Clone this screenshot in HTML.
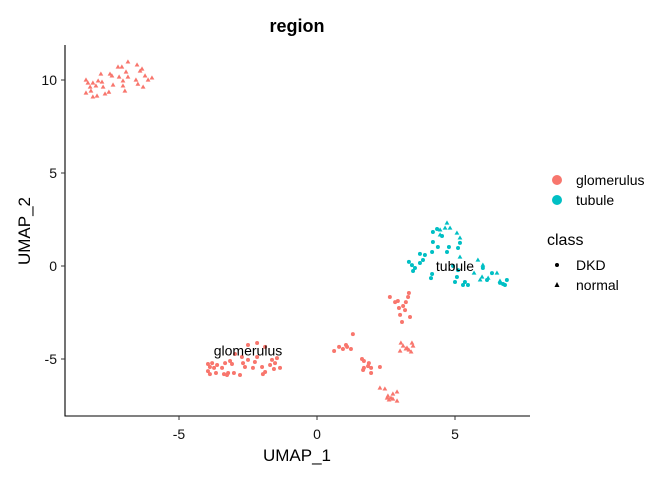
<!DOCTYPE html>
<html><head><meta charset="utf-8"><style>
body{margin:0;background:#fff;font-family:"Liberation Sans",Arial,sans-serif}
svg text{font-family:"Liberation Sans",Arial,sans-serif}
</style></head><body>
<svg id="chart" width="672" height="480">
<text x="297" y="32" text-anchor="middle" font-size="18" font-weight="bold">region</text>
<g id="axes"></g>
<g id="points"></g>
<g id="labels"></g>
<g>
<circle cx="557" cy="180" r="5" fill="#F8766D"/>
<text x="576" y="185" font-size="14">glomerulus</text>
<circle cx="557" cy="200" r="5" fill="#00BFC4"/>
<text x="576" y="205" font-size="14">tubule</text>
<text x="547" y="245" font-size="16">class</text>
<circle cx="557" cy="265" r="2" fill="#000"/>
<text x="576" y="270" font-size="14">DKD</text>
<polygon points="557,282 554.5,287 559.5,287" fill="#000"/>
<text x="576" y="290" font-size="14">normal</text>
</g>
</svg>
<script>
const xTicks=[-5,0,5];
const yTicks=[-5,0,5,10];
const glomNormalX=[-6.85,-7.21,-7.07,-6.52,-6.41,-6.34,-6.23,-6.12,-5.98,-6.56,-6.49,-6.30,-6.92,-6.85,-7.17,-7.03,-7.03,-6.96,-7.39,-7.54,-7.50,-7.43,-7.83,-7.93,-7.79,-7.75,-8.37,-8.30,-8.12,-8.22,-8.01,-8.19,-8.37,-8.12,-7.97,-7.68,3.04,3.12,3.01,3.26,3.44,3.48,3.33,3.41,3.22,2.28,2.46,2.90,2.75,2.57,2.68,2.54,2.75,2.90,2.61];
const glomNormalY=[10.97,10.70,10.70,10.81,10.48,10.59,10.22,10.00,10.11,10.00,9.78,9.62,10.43,10.16,10.16,9.95,9.68,9.41,9.73,9.35,10.32,10.22,10.32,9.95,9.89,9.62,10.00,9.84,9.84,9.62,9.68,9.41,9.30,9.09,9.14,9.25,-4.14,-4.30,-4.57,-4.41,-4.14,-4.30,-4.52,-4.62,-4.46,-6.56,-6.61,-6.77,-6.88,-6.99,-7.10,-7.10,-7.15,-7.26,-7.20];
const glomDkdX=[-3.95,-3.80,-3.62,-3.88,-3.73,-3.95,-3.66,-3.88,-3.37,-3.26,-3.22,-3.01,-2.79,-3.15,-3.08,-2.97,-2.72,-2.68,-2.61,-2.50,-2.25,-2.17,-2.32,-1.99,-1.88,-1.96,-1.70,-1.52,-1.45,-1.63,-1.34,-1.56,-2.50,-2.17,-1.88,-3.33,-3.44,3.33,2.64,3.30,2.83,2.93,3.22,3.12,2.97,3.19,3.01,3.37,3.08,1.30,0.62,0.80,0.94,1.05,1.09,1.23,1.63,1.70,1.88,1.85,1.96,1.70,1.67,1.96,2.28];
const glomDkdY=[-5.27,-5.22,-5.32,-5.43,-5.48,-5.65,-5.75,-5.81,-5.81,-5.86,-5.75,-5.75,-5.86,-5.11,-5.27,-4.73,-4.89,-5.22,-5.43,-5.05,-5.16,-4.89,-5.48,-5.43,-5.70,-5.81,-5.32,-5.22,-4.95,-5.05,-5.48,-5.54,-4.25,-4.14,-4.35,-5.22,-5.48,-1.45,-1.67,-1.67,-1.94,-1.88,-1.94,-2.15,-2.26,-2.37,-2.63,-2.74,-3.01,-3.66,-4.57,-4.35,-4.46,-4.25,-4.35,-4.46,-5.00,-5.11,-5.22,-5.38,-5.48,-5.48,-5.59,-5.75,-5.43];
const tubNormalX=[4.71,4.82,4.64,4.46,4.46,5.07,5.18,5.18,5.83,6.01,5.69,6.52,5.98,6.20,5.91,6.63];
const tubNormalY=[2.31,2.04,2.04,1.94,1.67,1.77,1.51,0.48,0.32,0.05,-0.38,-0.38,-0.59,-0.65,-0.75,-0.81];
const tubDkdX=[4.35,4.20,4.53,4.20,4.38,4.78,5.18,5.11,4.17,4.71,3.91,3.73,3.84,3.73,3.33,3.44,3.55,3.48,4.17,4.13,4.93,5.11,5.07,5.00,5.36,5.29,5.47,6.01,6.16,6.63,6.74,6.88,6.81,6.34];
const tubDkdY=[1.99,1.83,1.61,1.29,1.02,1.02,1.24,0.97,0.75,0.75,0.59,0.65,0.32,0.16,0.22,0.05,-0.11,-0.27,-0.43,-0.65,0.00,-0.22,-0.59,-0.86,-0.86,-1.02,-1.02,-0.11,-0.75,-0.91,-0.97,-0.75,-1.02,-0.38];
const clusterLabels=["glomerulus","tubule"];
const labelX=[-2.5,5.0];
const labelY=[-4.55,0.0];

const NS="http://www.w3.org/2000/svg";
const sx=v=>317+v*27.6;
const sy=v=>266-v*18.6;
function mk(tag,attrs,parent){const e=document.createElementNS(NS,tag);for(const k in attrs)e.setAttribute(k,attrs[k]);parent.appendChild(e);return e;}
const axes=document.getElementById('axes');
let l=mk('line',{x1:65,y1:45,x2:65,y2:416.5,stroke:'#000','stroke-width':1.1},axes);


l=mk('line',{x1:64.5,y1:416,x2:530,y2:416,stroke:'#000','stroke-width':1.1},axes);


xTicks.forEach(t=>{
  const tk=mk('line',{x1:sx(t),y1:416,x2:sx(t),y2:420,stroke:'#333'},axes);
  
  
  const tx=mk('text',{x:sx(t),y:439,'text-anchor':'middle','font-size':14,fill:'#111'},axes);
  tx.textContent=t;
  
  
});
yTicks.forEach(t=>{
  const tk=mk('line',{x1:61,y1:sy(t),x2:65,y2:sy(t),stroke:'#333'},axes);
  
  
  const tx=mk('text',{x:57,y:sy(t)+5,'text-anchor':'end','font-size':14,fill:'#111'},axes);
  tx.textContent=t;
  
  
});
let at=mk('text',{x:297,y:461,'text-anchor':'middle','font-size':17},axes);
at.textContent='UMAP_1';


at=mk('text',{x:0,y:0,'text-anchor':'middle','font-size':17,transform:'translate(30,231) rotate(-90)'},axes);
at.textContent='UMAP_2';



const pts=document.getElementById('points');
function draw(X,Y,color,tri,name){
  X.forEach((x,i)=>{
    const cx=sx(x),cy=sy(Y[i]);let e;
    if(tri){e=mk('polygon',{points:`${cx},${cy-2.6} ${cx-2.4},${cy+1.6} ${cx+2.4},${cy+1.6}`,fill:color},pts);}
    else{e=mk('circle',{cx:cx,cy:cy,r:2,fill:color},pts);}
    
    
  });
}
draw(glomNormalX,glomNormalY,'#F8766D',true,'point-glomerulus-normal');
draw(glomDkdX,glomDkdY,'#F8766D',false,'point-glomerulus-dkd');
draw(tubNormalX,tubNormalY,'#00BFC4',true,'point-tubule-normal');
draw(tubDkdX,tubDkdY,'#00BFC4',false,'point-tubule-dkd');
const lg=document.getElementById('labels');
clusterLabels.forEach((s,i)=>{
  const t=mk('text',{x:sx(labelX[i]),y:sy(labelY[i])+5,'text-anchor':'middle','font-size':14},lg);
  t.textContent=s;
  
  
});
</script>
</body></html>
